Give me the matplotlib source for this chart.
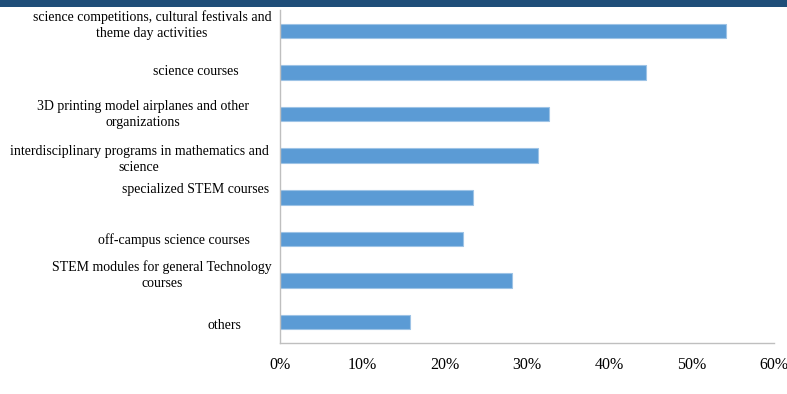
import matplotlib.pyplot as plt
from matplotlib.patches import Rectangle
from matplotlib.transforms import blended_transform_factory

# survey categories, top to bottom
activities = [
    "science competitions, cultural festivals and\ntheme day activities",
    "science courses",
    "3D printing model airplanes and other\norganizations",
    "interdisciplinary programs in mathematics and\nscience",
    "specialized STEM courses",
    "off-campus science courses",
    "STEM modules for general Technology\ncourses",
    "others",
]
shares = [54.2, 44.4, 32.7, 31.3, 23.4, 22.2, 28.2, 15.8]
tick_values = [0, 10, 20, 30, 40, 50, 60]

# label placement (pixel centre x, vertical nudge in category units)
label_cx = [152, 196, 143, 139, 196, 174, 162, 224]
label_dy = [0.13, 0.02, -0.02, -0.1, 0.18, -0.02, 0.12, -0.08]

plt.rcParams['font.family'] = ['Liberation Serif', 'DejaVu Serif']

fig = plt.figure(figsize=(7.87, 3.94), dpi=100)
ax = fig.add_axes([280 / 787, 1 - 343 / 394, (774 - 280) / 787, (343 - 10) / 394])

y = list(range(len(activities)))
ax.barh(y, shares, height=0.35, color='#5B9BD5', edgecolor='#9DC3E6', linewidth=0.8)

ax.set_xlim(0, 60)
ax.set_ylim(len(activities) - 0.5, -0.5)
ax.set_xticks(tick_values)
ax.set_xticklabels([f"{v}%" for v in tick_values], fontsize=11.5)
ax.tick_params(axis='x', length=0, pad=10)
ax.set_yticks([])

for side in ['top', 'right']:
    ax.spines[side].set_visible(False)
for side in ['left', 'bottom']:
    ax.spines[side].set_color('#BFBFBF')
    ax.spines[side].set_linewidth(1.0)

# category labels, centred text blocks left of the axis
label_tr = blended_transform_factory(fig.transFigure, ax.transData)
for i, text in enumerate(activities):
    ax.text(label_cx[i] / 787, i - label_dy[i], text, transform=label_tr,
            ha='center', va='center', multialignment='center',
            fontsize=10, linespacing=1.3, clip_on=False)

# dark header band along the top edge
fig.patches.append(Rectangle((0, 1 - 7 / 394), 1, 7 / 394, transform=fig.transFigure,
                             facecolor='#1F4E79', edgecolor='none', figure=fig))

fig.savefig('out.png', dpi=100)
